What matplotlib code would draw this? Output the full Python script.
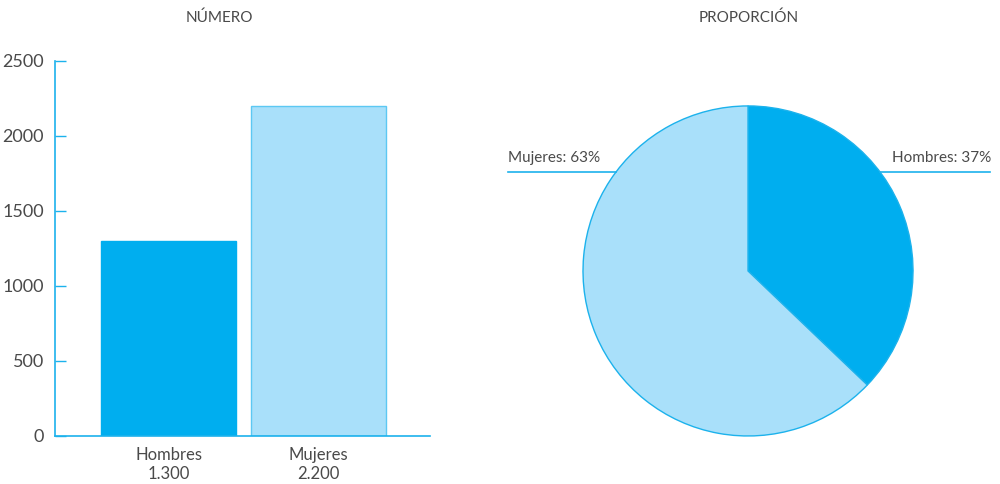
import matplotlib.pyplot as plt

# --- Data ---
categories = ["Hombres", "Mujeres"]
values = [1300, 2200]
colors = ["#00AEEF", "#A9E0FA"]
yticks = [0, 500, 1000, 1500, 2000, 2500]

plt.rcParams["font.family"] = ["Lato", "DejaVu Sans"]
text_color = "#4a4a4a"
line_color = "#1CB2EC"

fig = plt.figure(figsize=(10, 4.84), dpi=100)

# --- Bar chart ---
ax = fig.add_axes([0.055, 0.0992, 0.375, 0.7756])
x = range(len(categories))
ax.bar(x, values, width=0.9, color=colors, edgecolor=[colors[0], "#5CC8F3"], linewidth=1)
ax.set_xlim(-0.757, 1.743)
ax.set_ylim(0, 2500)
ax.set_yticks(yticks)
ax.set_xticks(list(x))
ax.set_xticklabels([f"{c}\n{v:,}".replace(",", ".") for c, v in zip(categories, values)],
                   fontsize=12, color=text_color, linespacing=1.25)
ax.tick_params(axis="y", direction="in", length=8, width=1, color=line_color,
               labelsize=13, labelcolor=text_color, pad=8)
ax.tick_params(axis="x", length=0, pad=8)
for s in ["top", "right"]:
    ax.spines[s].set_visible(False)
for s in ["left", "bottom"]:
    ax.spines[s].set_color(line_color)
    ax.spines[s].set_linewidth(1.2)
fig.text(0.219, 1 - 18 / 484, "NÚMERO", ha="center", va="center", fontsize=11, color=text_color)

# --- Pie chart ---
pax = fig.add_axes([0.5, 0.0, 0.5, 1.0])
pax.pie(values, colors=colors, startangle=90, counterclock=False,
        wedgeprops=dict(edgecolor=line_color, linewidth=1))
pax.set_aspect("auto")
pax.set_xlim(-1.503, 1.527)
pax.set_ylim(-1.291, 1.642)
pax.axis("off")

total = sum(values)
pct = [round(100 * v / total) for v in values]
pax.plot([0.8, 1.467], [0.6, 0.6], color=line_color, lw=1.2)
pax.plot([-1.455, -0.8], [0.6, 0.6], color=line_color, lw=1.2)
pax.text(1.475, 0.64, f"{categories[0]}: {pct[0]}%", ha="right", va="bottom",
         fontsize=11, color=text_color)
pax.text(-1.455, 0.64, f"{categories[1]}: {pct[1]}%", ha="left", va="bottom",
         fontsize=11, color=text_color)
fig.text(0.749, 1 - 18 / 484, "PROPORCIÓN", ha="center", va="center", fontsize=11, color=text_color)

fig.savefig("out.png", dpi=100)
